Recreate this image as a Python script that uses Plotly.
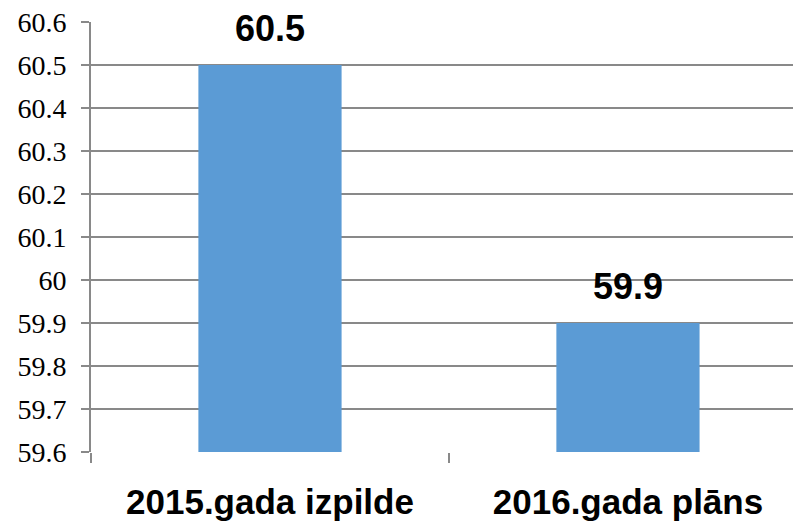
import plotly.graph_objects as go

categories = ["2015.gada izpilde", "2016.gada plāns"]
values = [60.5, 59.9]
value_labels = ["60.5", "59.9"]
y_ticks = [59.6, 59.7, 59.8, 59.9, 60.0, 60.1, 60.2, 60.3, 60.4, 60.5, 60.6]
y_tick_text = ["59.6", "59.7", "59.8", "59.9", "60", "60.1", "60.2", "60.3", "60.4", "60.5", "60.6"]
y_min, y_max = 59.6, 60.6

sans = "Liberation Sans"
serif = "Times New Roman, Tinos, Liberation Serif, DejaVu Serif"

fig = go.Figure()
fig.add_trace(go.Bar(
    x=categories, y=[v - y_min for v in values], base=y_min,
    marker=dict(color="#5B9BD5", line=dict(width=0)),
    width=0.4, hoverinfo="skip",
))

for c, v, t in zip(categories, values, value_labels):
    fig.add_annotation(x=c, y=v, text=t, showarrow=False, yanchor="bottom",
                       yshift=14, font=dict(family=sans, size=36, color="#000000", weight="bold"))

grid = "#898989"
fig.update_layout(
    width=793, height=526,
    margin=dict(l=91, r=0, t=22, b=74),
    paper_bgcolor="white", plot_bgcolor="white",
    showlegend=False,
    bargap=0.6,
)
fig.update_xaxes(
    type="category", range=[-0.5, 1.461],
    tickson="boundaries", ticks="outside", ticklen=10, tickcolor=grid, tickwidth=1.5,
    showgrid=False, showline=False,
    ticklabelstandoff=26,
    tickfont=dict(family=sans, size=35, color="#000000", weight="bold"),
)
fig.update_yaxes(
    range=[y_min, y_max], tickvals=y_ticks, ticktext=y_tick_text,
    showgrid=True, gridcolor=grid, gridwidth=2,
    showline=True, linecolor=grid, linewidth=2,
    ticks="outside", ticklen=8, tickcolor=grid, tickwidth=2,
    ticklabelstandoff=9,
    tickfont=dict(family=serif, size=28, color="#000000"),
    zeroline=False,
)
fig.write_html("out.html", config={"displayModeBar": False},
               post_script="document.body.style.margin='0';document.body.style.padding='0';")
